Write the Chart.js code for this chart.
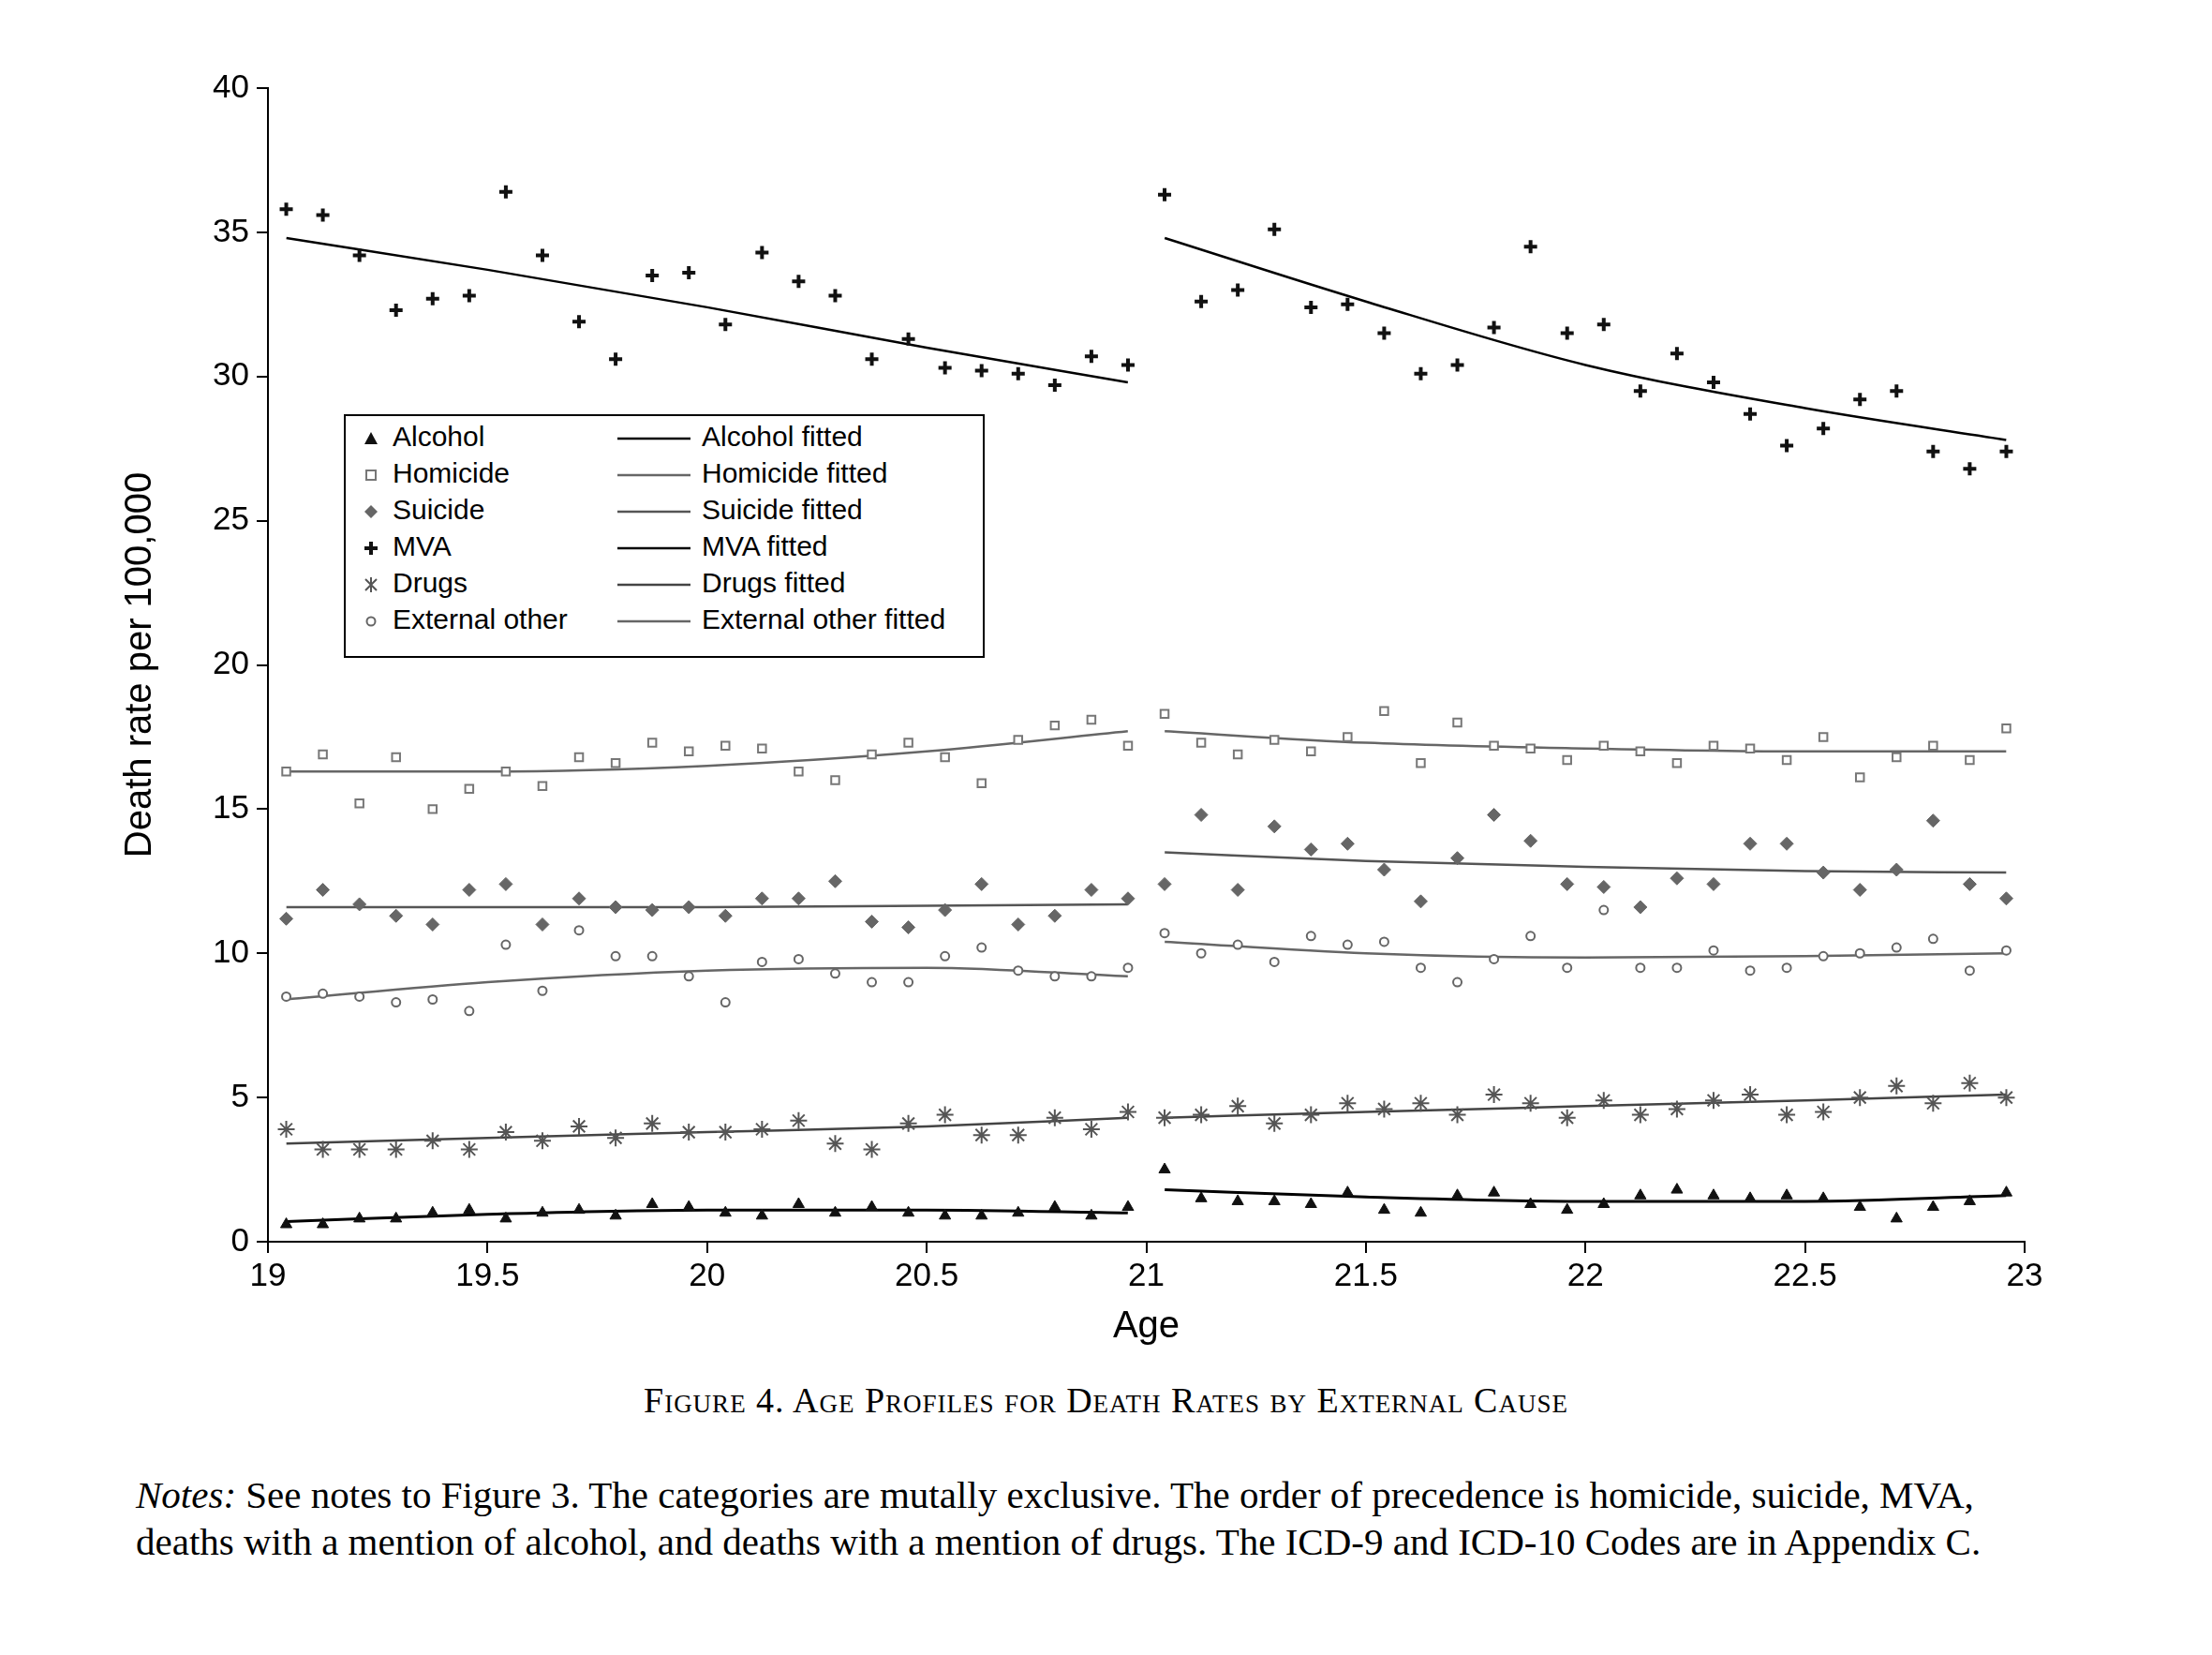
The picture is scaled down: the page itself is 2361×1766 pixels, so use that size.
<!DOCTYPE html>
<html><head><meta charset="utf-8">
<script src="https://cdn.jsdelivr.net/npm/chart.js@4/dist/chart.umd.min.js"></script>
<style>
body{margin:0;background:#fff;width:2361px;height:1766px;position:relative;overflow:hidden}
#wrap{position:absolute;left:0;top:0;width:2361px;height:1440px}
#legend{position:absolute;left:367px;top:442px;width:680px;height:256px;border:2px solid #000;background:#fff;font-family:"Liberation Sans",Arial,sans-serif;font-size:30px;color:#000}
#legend .row{position:absolute;height:39px;line-height:39px;white-space:nowrap}
#legend svg{vertical-align:middle;margin-right:14px}
#caption{position:absolute;left:0;width:2361px;top:1472px;text-align:center;font-family:"Liberation Serif","Times New Roman",serif;font-size:38px;font-variant:small-caps;letter-spacing:1px}
#notes{position:absolute;left:145px;width:2045px;top:1570px;font-family:"Liberation Serif","Times New Roman",serif;font-size:41px;line-height:50px;color:#000}
</style></head><body>
<div id="wrap"><canvas id="myChart" width="2361" height="1440"></canvas></div>
<div id="legend"></div>
<div id="caption">Figure 4. Age Profiles for Death Rates by External Cause</div>
<div id="notes"><i>Notes:</i> See notes to Figure 3. The categories are mutally exclusive. The order of precedence is homicide, suicide, MVA, deaths with a mention of alcohol, and deaths with a mention of drugs. The ICD-9 and ICD-10 Codes are in Appendix C.</div>
<script>
// 자료: 월별 연령 (19세 ~ 23세, 21세 전후로 나뉨)
var agesLeft = [], agesRight = [];
for (var m = 0; m < 24; m++) { agesLeft.push(19 + (m + 0.5) / 12); agesRight.push(21 + (m + 0.5) / 12); }
var fitAgesLeft = [19.042, 19.5, 20, 20.5, 20.958];
var fitAgesRight = [21.042, 21.5, 22, 22.5, 22.958];

var alcohol = [0.6,0.6,0.8,0.8,1.0,1.1,0.8,1.0,1.1,0.9,1.3,1.2,1.0,0.9,1.3,1.0,1.2,1.0,0.9,0.9,1.0,1.2,0.9,1.2,
  2.5,1.5,1.4,1.4,1.3,1.7,1.1,1.0,1.6,1.7,1.3,1.1,1.3,1.6,1.8,1.6,1.5,1.6,1.5,1.2,0.8,1.2,1.4,1.7];
var homicide = [16.3,16.9,15.2,16.8,15.0,15.7,16.3,15.8,16.8,16.6,17.3,17.0,17.2,17.1,16.3,16.0,16.9,17.3,16.8,15.9,17.4,17.9,18.1,17.2,
  18.3,17.3,16.9,17.4,17.0,17.5,18.4,16.6,18.0,17.2,17.1,16.7,17.2,17.0,16.6,17.2,17.1,16.7,17.5,16.1,16.8,17.2,16.7,17.8];
var suicide = [11.2,12.2,11.7,11.3,11.0,12.2,12.4,11.0,11.9,11.6,11.5,11.6,11.3,11.9,11.9,12.5,11.1,10.9,11.5,12.4,11.0,11.3,12.2,11.9,
  12.4,14.8,12.2,14.4,13.6,13.8,12.9,11.8,13.3,14.8,13.9,12.4,12.3,11.6,12.6,12.4,13.8,13.8,12.8,12.2,12.9,14.6,12.4,11.9];
var mva = [35.8,35.6,34.2,32.3,32.7,32.8,36.4,34.2,31.9,30.6,33.5,33.6,31.8,34.3,33.3,32.8,30.6,31.3,30.3,30.2,30.1,29.7,30.7,30.4,
  36.3,32.6,33.0,35.1,32.4,32.5,31.5,30.1,30.4,31.7,34.5,31.5,31.8,29.5,30.8,29.8,28.7,27.6,28.2,29.2,29.5,27.4,26.8,27.4];
var drugs = [3.9,3.2,3.2,3.2,3.5,3.2,3.8,3.5,4.0,3.6,4.1,3.8,3.8,3.9,4.2,3.4,3.2,4.1,4.4,3.7,3.7,4.3,3.9,4.5,
  4.3,4.4,4.7,4.1,4.4,4.8,4.6,4.8,4.4,5.1,4.8,4.3,4.9,4.4,4.6,4.9,5.1,4.4,4.5,5.0,5.4,4.8,5.5,5.0];
var externalOther = [8.5,8.6,8.5,8.3,8.4,8.0,10.3,8.7,10.8,9.9,9.9,9.2,8.3,9.7,9.8,9.3,9.0,9.0,9.9,10.2,9.4,9.2,9.2,9.5,
  10.7,10.0,10.3,9.7,10.6,10.3,10.4,9.5,9.0,9.8,10.6,9.5,11.5,9.5,9.5,10.1,9.4,9.5,9.9,10.0,10.2,10.5,9.4,10.1];

// 적합선 (fitted)
var alcoholFitL = [0.7,0.95,1.1,1.1,1.0], alcoholFitR = [1.8,1.55,1.4,1.4,1.6];
var homicideFitL = [16.3,16.3,16.5,17.0,17.7], homicideFitR = [17.7,17.3,17.1,17.0,17.0];
var suicideFitL = [11.6,11.6,11.6,11.65,11.7], suicideFitR = [13.5,13.2,13.0,12.85,12.8];
var mvaFitL = [34.8,33.7,32.4,31.0,29.8], mvaFitR = [34.8,32.6,30.4,28.9,27.8];
var drugsFitL = [3.4,3.6,3.8,4.0,4.3], drugsFitR = [4.3,4.5,4.7,4.9,5.1];
var externalFitL = [8.4,9.0,9.4,9.5,9.2], externalFitR = [10.4,10.0,9.85,9.9,10.0];

var xTicks = [19, 19.5, 20, 20.5, 21, 21.5, 22, 22.5, 23];

var allAges = agesLeft.concat(agesRight);
function pts(values) { return values.map(function (v, i) { return { x: allAges[i], y: v }; }); }
function fit(ages, values) { return ages.map(function (a, i) { return { x: a, y: values[i] }; }); }

var series = [
  { name: 'Alcohol', data: alcohol, style: 'triangle', color: '#111', fill: '#111', r: 7, bw: 1, fitL: alcoholFitL, fitR: alcoholFitR, lc: '#000', lw: 3 },
  { name: 'Homicide', data: homicide, style: 'rect', color: '#777', fill: '#fff', r: 6, bw: 2, fitL: homicideFitL, fitR: homicideFitR, lc: '#666', lw: 2.5 },
  { name: 'Suicide', data: suicide, style: 'rectRot', color: '#666', fill: '#666', r: 7, bw: 1, fitL: suicideFitL, fitR: suicideFitR, lc: '#555', lw: 2.5 },
  { name: 'MVA', data: mva, style: 'cross', color: '#111', fill: '#111', r: 7, bw: 4, fitL: mvaFitL, fitR: mvaFitR, lc: '#000', lw: 2.5 },
  { name: 'Drugs', data: drugs, style: 'star', color: '#555', fill: '#555', r: 9, bw: 2, fitL: drugsFitL, fitR: drugsFitR, lc: '#444', lw: 2.5 },
  { name: 'External other', data: externalOther, style: 'circle', color: '#666', fill: '#fff', r: 4.5, bw: 2, fitL: externalFitL, fitR: externalFitR, lc: '#666', lw: 2.5 }
];

var datasets = [];
series.forEach(function (s) {
  datasets.push({ label: s.name, data: pts(s.data), showLine: false, pointStyle: s.style,
    pointRadius: s.r, pointBorderColor: s.color, pointBackgroundColor: s.fill, pointBorderWidth: s.bw });
  [s.fitL, s.fitR].forEach(function (f, k) {
    datasets.push({ label: s.name + ' fitted', data: fit(k ? fitAgesRight : fitAgesLeft, f), showLine: true,
      borderColor: s.lc, borderWidth: s.lw, pointRadius: 0, cubicInterpolationMode: 'monotone' });
  });
});

var tickFont = { family: '"Liberation Sans", Arial, sans-serif', size: 35 };
var ctx = document.getElementById("myChart");
var myChart = new Chart(ctx, {
  type: 'scatter',
  data: { datasets: datasets },
  options: {
    responsive: false, animation: false,
    layout: { padding: { left: 126, right: 200, top: 94, bottom: 0 } },
    plugins: { legend: { display: false }, tooltip: { enabled: false } },
    scales: {
      x: {
        type: 'linear', min: 19, max: 23,
        afterBuildTicks: function (axis) { axis.ticks = xTicks.map(function (v) { return { value: v }; }); },
        afterFit: function (axis) { axis.height = 115; },
        grid: { drawOnChartArea: false, tickLength: 12, color: '#000', lineWidth: 2 },
        border: { color: '#000', width: 2 },
        ticks: { color: '#000', font: tickFont, padding: 4, maxRotation: 0, callback: function (v) { return String(v); } },
        title: { display: true, text: 'Age', color: '#000', font: { family: '"Liberation Sans", Arial, sans-serif', size: 40 }, padding: 0 }
      },
      y: {
        min: 0, max: 40,
        afterFit: function (axis) { axis.width = 160; },
        grid: { drawOnChartArea: false, tickLength: 12, color: '#000', lineWidth: 2 },
        border: { color: '#000', width: 2 },
        ticks: { stepSize: 5, color: '#000', font: tickFont, padding: 8 },
        title: { display: true, text: 'Death rate per 100,000', color: '#000', font: { family: '"Liberation Sans", Arial, sans-serif', size: 40 }, padding: 0 }
      }
    }
  }
});

// 범례 (두 열)
var legend = document.getElementById('legend');
function marker(s) {
  var c = s.color, f = s.fill, svg = '';
  if (s.style === 'triangle') svg = '<polygon points="9,2 16,15 2,15" fill="' + f + '"/>';
  else if (s.style === 'rect') svg = '<rect x="4" y="4" width="10" height="10" fill="#fff" stroke="' + c + '" stroke-width="2"/>';
  else if (s.style === 'rectRot') svg = '<polygon points="9,2 16,9 9,16 2,9" fill="' + f + '"/>';
  else if (s.style === 'cross') svg = '<path d="M9 2V16M2 9H16" stroke="' + c + '" stroke-width="4"/>';
  else if (s.style === 'star') svg = '<path d="M3 3L15 15M15 3L3 15M9 1V17" stroke="' + c + '" stroke-width="2"/>';
  else svg = '<circle cx="9" cy="9" r="4.5" fill="#fff" stroke="' + c + '" stroke-width="2"/>';
  return '<svg width="18" height="18">' + svg + '</svg>';
}
series.forEach(function (s, i) {
  var top = 2 + i * 39;
  legend.innerHTML += '<div class="row" style="left:18px;top:' + top + 'px">' + marker(s) + s.name + '</div>';
  legend.innerHTML += '<div class="row" style="left:290px;top:' + top + 'px"><svg width="78" height="6" style="margin-right:12px"><line x1="0" y1="3" x2="78" y2="3" stroke="' + s.lc + '" stroke-width="2.5"/></svg>' + s.name + ' fitted</div>';
});
</script>
</body></html>
